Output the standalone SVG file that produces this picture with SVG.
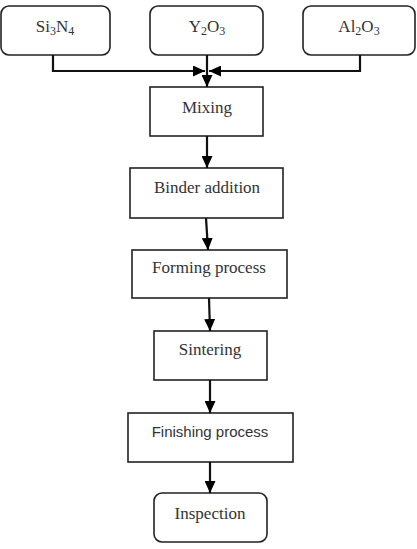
<svg xmlns="http://www.w3.org/2000/svg" width="417" height="549" viewBox="0 0 417 549">
<style>
.box{fill:#fff;stroke:#222;stroke-width:1.6}
.t{font-family:"Liberation Serif","Times New Roman",serif;font-size:17px;fill:#333;text-anchor:middle}
.s{font-family:"Liberation Sans",Arial,sans-serif;font-size:15px;fill:#333;text-anchor:middle}
.c{fill:none;stroke:#111;stroke-width:2.2}
</style>
<defs>
<marker id="ah" markerWidth="12" markerHeight="11" refX="12" refY="5.5" orient="auto" markerUnits="userSpaceOnUse" viewBox="0 0 12 11">
<path d="M0,0 L12,5.5 L0,11 z" fill="#000"/>
</marker>
</defs>
<g id="si3n4"><rect class="box" x="1" y="6" width="109" height="49" rx="8"/><text class="t" x="55" y="32">Si<tspan font-size="12" dy="3">3</tspan><tspan dy="-3">N</tspan><tspan font-size="12" dy="3">4</tspan></text></g>
<g id="y2o3"><rect class="box" x="150" y="6" width="113" height="49" rx="8"/><text class="t" x="207" y="32">Y<tspan font-size="12" dy="3">2</tspan><tspan dy="-3">O</tspan><tspan font-size="12" dy="3">3</tspan></text></g>
<g id="al2o3"><rect class="box" x="303" y="6" width="112" height="49" rx="8"/><text class="t" x="359" y="32">Al<tspan font-size="12" dy="3">2</tspan><tspan dy="-3">O</tspan><tspan font-size="12" dy="3">3</tspan></text></g>
<g id="mixing"><rect class="box" x="150" y="87" width="113" height="49"/><text class="t" x="207" y="113">Mixing</text></g>
<g id="binder"><rect class="box" x="130" y="168" width="153" height="50"/><text class="t" x="207" y="193">Binder addition</text></g>
<g id="forming"><rect class="box" x="132" y="250" width="155" height="48"/><text class="t" x="209" y="273">Forming process</text></g>
<g id="sintering"><rect class="box" x="154" y="331" width="113" height="49"/><text class="t" x="210" y="355">Sintering</text></g>
<g id="finishing"><rect class="box" x="128" y="413" width="165" height="49"/><text class="s" x="210" y="437">Finishing process</text></g>
<g id="inspection"><rect class="box" x="154" y="493" width="113" height="49" rx="8"/><text class="t" x="210" y="519">Inspection</text></g>
<g id="connectors">
<path class="c" d="M53,55 V71 H205" marker-end="url(#ah)"/>
<path class="c" d="M360,55 V71 H209" marker-end="url(#ah)"/>
<path class="c" d="M207,55 V87" marker-end="url(#ah)"/>
<path class="c" d="M207,136 V168" marker-end="url(#ah)"/>
<path class="c" d="M206,218 L208,250" marker-end="url(#ah)"/>
<path class="c" d="M209,298 L210,331" marker-end="url(#ah)"/>
<path class="c" d="M210,380 V413" marker-end="url(#ah)"/>
<path class="c" d="M210,462 V493" marker-end="url(#ah)"/>
</g>
</svg>
